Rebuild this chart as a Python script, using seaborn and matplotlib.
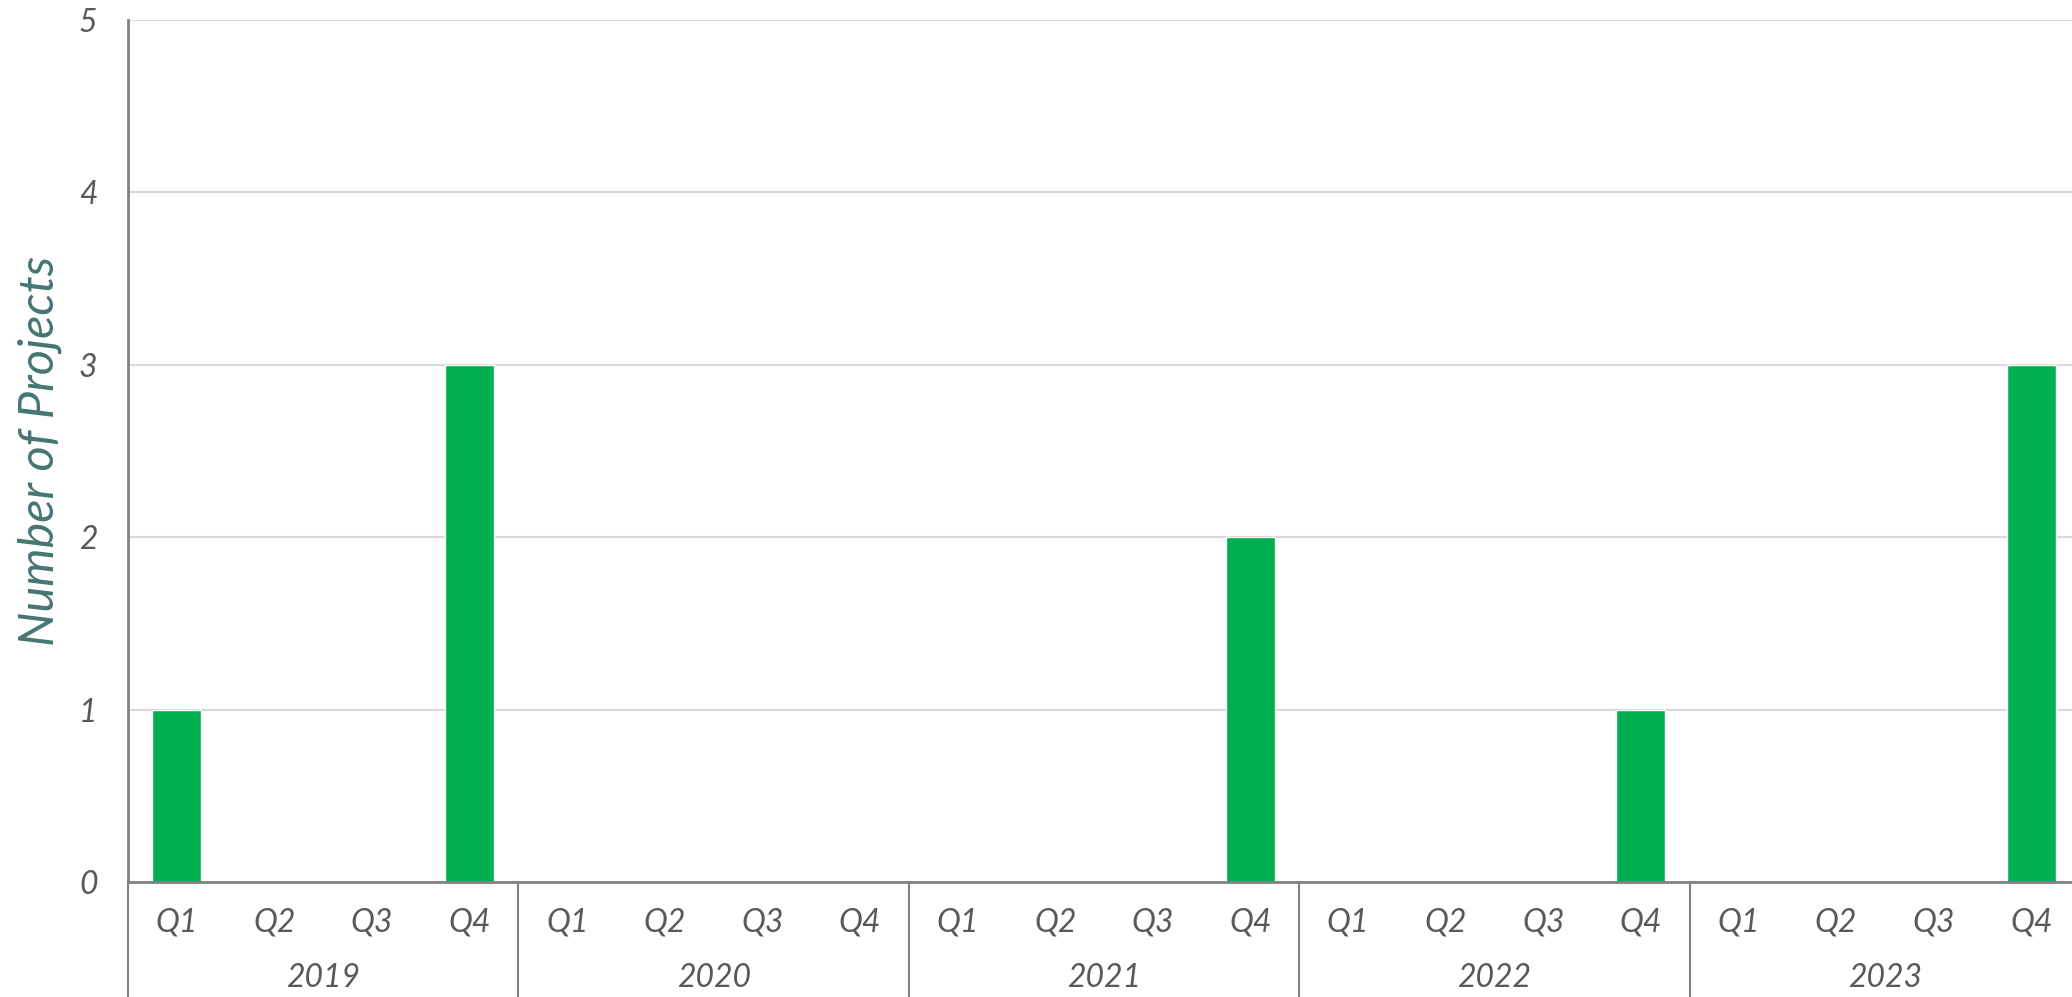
import matplotlib
matplotlib.use("Agg")
import matplotlib.pyplot as plt
import matplotlib.transforms as mtransforms
import seaborn as sns
import pandas as pd

years = ["2019", "2020", "2021", "2022", "2023"]
quarters = ["Q1", "Q2", "Q3", "Q4"]
projects = [1, 0, 0, 3,
            0, 0, 0, 0,
            0, 0, 0, 2,
            0, 0, 0, 1,
            0, 0, 0, 3]

bar_color = "#00B050"
text_color = "#595959"
label_color = "#457673"

sns.set_theme(style="white")
plt.rcParams["font.family"] = ["Lato", "DejaVu Sans"]

df = pd.DataFrame({
    "period": [f"{y} {q}" for y in years for q in quarters],
    "quarter": [q for y in years for q in quarters],
    "projects": projects,
})

W, H = 2072, 997
fig = plt.figure(figsize=(W / 100, H / 100), dpi=100)
left, right, top, bottom = 128, 2080, 20, 882
ax = fig.add_axes([left / W, (H - bottom) / H, (right - left) / W, (bottom - top) / H])

sns.barplot(data=df, x="period", y="projects", color=bar_color, width=0.5,
            saturation=1, ax=ax, order=df["period"])

ax.set_xlim(-0.5, len(df) - 0.5)
ax.set_ylim(0, 5)
ax.set_yticks(range(0, 6))
ax.set_yticklabels([str(i) for i in range(0, 6)], fontsize=23, style="italic", color=text_color)
ax.tick_params(axis="y", length=0, pad=22)
ax.tick_params(axis="x", length=0, pad=18)
ax.set_xticks(range(len(df)))
ax.set_xticklabels(df["quarter"], fontsize=23, style="italic", color=text_color)
ax.grid(axis="y", color="#D9D9D9", linewidth=1.5)
ax.set_axisbelow(True)

for s in ["top", "right"]:
    ax.spines[s].set_visible(False)
for s in ["left", "bottom"]:
    ax.spines[s].set_color("#808080")
    ax.spines[s].set_linewidth(2)

ax.set_xlabel("")
ax.set_ylabel("Number of Projects", fontsize=35, style="italic", color=label_color, labelpad=12)

# year groups below the quarters
trans = mtransforms.blended_transform_factory(ax.transData, ax.transAxes)
depth = (997 - bottom) / (bottom - top)
for i, y in enumerate(years):
    ax.text(i * 4 + 1.5, -(978 - bottom) / (bottom - top), y, transform=trans,
            ha="center", va="center", fontsize=23, style="italic", color=text_color)
for i in range(len(years) + 1):
    ax.plot([i * 4 - 0.5, i * 4 - 0.5], [0, -depth], transform=trans,
            color="#808080", linewidth=1.5, clip_on=False)

fig.savefig("out.png", dpi=100)
